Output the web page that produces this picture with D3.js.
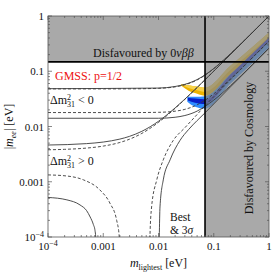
<!DOCTYPE html>
<html>
<head>
<meta charset="utf-8">
<script src="https://cdn.jsdelivr.net/npm/d3@7"></script>
<style>
body { margin: 0; background: #fff; }
svg text { font-family: "Liberation Serif", "Times New Roman", serif; fill: #111; }
</style>
</head>
<body>
<div id="chart"></div>
<script>
// ---- data: [m_lightest, |m_ee|] in eV ----
// normal hierarchy (dm31 > 0)
var nhBestUpper = [[1e-4,0.00379],[2e-4,0.00386],[5e-4,0.00407],[1e-3,0.00442],[2e-3,0.00514],[3e-3,0.0059],[5e-3,0.00751],[0.01,0.01188],[0.02,0.02129],[0.03,0.031],[0.05,0.0507],[0.07,0.0705],[0.1,0.1004],[0.2,0.2002],[1,1.0]];
var nh3sUpper = [[1e-4,0.00462],[5e-4,0.0049],[1e-3,0.00523],[2e-3,0.00592],[3e-3,0.00664],[5e-3,0.00819],[0.01,0.01243],[0.02,0.0217],[0.03,0.0313],[0.05,0.0509],[0.07,0.0707],[0.1,0.1005],[0.2,0.2003],[1,1.0001]];
var nhBestLowerL = [[1e-4,1.33e-3],[2.2e-4,1.27e-3],[4.4e-4,1.08e-3],[8.7e-4,7.1e-4],[1.32e-3,4.1e-4],[1.75e-3,2.0e-4],[1.95e-3,1.0e-4],[2.05e-3,4e-5]];
var nhBestLowerR = [[6.9e-3,4e-5],[7.0e-3,1.0e-4],[7.5e-3,3.5e-4],[9.3e-3,1.08e-3],[0.0122,2.49e-3],[0.0185,5.6e-3],[0.03,9.5e-3],[0.05,0.0165],[0.07,0.024],[0.1,0.0346],[0.2,0.0698],[0.5,0.175],[1,0.35]];
var nh3sLowerL = [[1e-4,5.2e-4],[2.2e-4,4.7e-4],[3.8e-4,3.8e-4],[5e-4,3.0e-4],[5.8e-4,2.3e-4],[6.6e-4,1.7e-4],[7.1e-4,1.3e-4],[7.3e-4,1.0e-4],[7.5e-4,5e-5]];
var nh3sLowerR = [[1.02e-2,5e-5],[1.033e-2,1.0e-4],[1.064e-2,3.5e-4],[1.22e-2,1.08e-3],[1.62e-2,2.49e-3],[2.45e-2,5.6e-3],[0.035,8.8e-3],[0.05,0.0128],[0.07,0.0178],[0.1,0.0256],[0.2,0.052],[0.5,0.130],[1,0.261]];
// inverted hierarchy (dm31 < 0)
var ihBestUpper = [[1e-4,0.04789],[1e-3,0.04792],[3e-3,0.04805],[0.01,0.0491],[0.02,0.05218],[0.03,0.05683],[0.05,0.06955],[0.07,0.08509],[0.1,0.1111],[0.2,0.2058],[0.5,0.5023],[1,1.0012]];
var ih3sUpper = [[1e-4,0.0484],[0.01,0.0496],[0.02,0.0530],[0.03,0.0580],[0.05,0.0707],[0.07,0.0863],[0.1,0.1121],[0.2,0.2065],[0.5,0.5026],[1,1.0013]];
var ihBestLower = [[1e-4,0.01789],[3e-3,0.01787],[0.01,0.01806],[0.02,0.01894],[0.03,0.02043],[0.05,0.02471],[0.07,0.03006],[0.1,0.03908],[0.2,0.07212],[0.5,0.1759],[1,0.3504]];
var ih3sLower = [[1e-4,0.0141],[0.01,0.0141],[0.02,0.0147],[0.03,0.0158],[0.05,0.0190],[0.07,0.0232],[0.1,0.0300],[0.2,0.0545],[0.5,0.1315],[1,0.2615]];
// GMSS p=1/2 bands: [m, low, high]
var yellowBand = [[0.0255,0.055,0.058],[0.035,0.0445,0.056],[0.05,0.0393,0.0527],[0.0695,0.0361,0.0504],[0.2,0.0882,0.1253],[0.5,0.191,0.275],[1,0.344,0.502]];
var blueBand = [[0.0332,0.0281,0.0346],[0.0458,0.0228,0.0346],[0.0695,0.0210,0.0354],[0.2,0.0591,0.0975],[0.5,0.139,0.2297],[1,0.268,0.443]];
var blueCore = [[0.034,0.0295,0.033],[0.0458,0.027,0.032],[0.0695,0.0255,0.031],[0.2,0.0722,0.0875],[0.5,0.175,0.2096],[1,0.344,0.407]];
// bounds
var meeBound = 0.148;   // 0vbb
var mBound = 0.0695;    // cosmology
// ticks
var majorTicks = [1e-4, 1e-3, 1e-2, 1e-1, 1];
var tickLabels = [["10","\u22124"], ["0.001",""], ["0.01",""], ["0.1",""], ["1",""]];

// set the dimensions and margins of the graph
var margin = {top: 16, right: 4, bottom: 37, left: 48},
    width = 273 - margin.left - margin.right,
    height = 274 - margin.top - margin.bottom;

var svg = d3.select("#chart").append("svg")
    .attr("width", 273).attr("height", 274);
var g = svg.append("g")
    .attr("transform", "translate(" + margin.left + "," + margin.top + ")");

var x = d3.scaleLog().domain([1e-4, 1]).range([0, width]);
var y = d3.scaleLog().domain([1e-4, 1]).range([height, 0]);

g.append("clipPath").attr("id", "plotclip")
  .append("rect").attr("width", width).attr("height", height);
var plot = g.append("g").attr("clip-path", "url(#plotclip)");

// bands
var area = d3.area()
    .x(function(d) { return x(d[0]); })
    .y0(function(d) { return y(d[1]); })
    .y1(function(d) { return y(d[2]); })
    .curve(d3.curveMonotoneX);
plot.append("path").datum(blueBand).attr("d", area).attr("fill", "#2f8cff");
plot.append("path").datum(yellowBand).attr("d", area).attr("fill", "#efb400");
plot.append("path")
    .datum(yellowBand.map(function(d) { return [d[0], Math.sqrt(d[1] * d[2]), d[2]]; }))
    .attr("d", area).attr("fill", "#f7d24a");
plot.append("path").datum(blueCore).attr("d", area).attr("fill", "#0a1ec8");

// disfavoured regions (semi transparent grey over the bands)
plot.append("rect")
    .attr("x", 0).attr("y", 0)
    .attr("width", width).attr("height", y(meeBound))
    .attr("fill", "#848484").attr("opacity", 0.7);
plot.append("rect")
    .attr("x", x(mBound)).attr("y", y(meeBound))
    .attr("width", width - x(mBound)).attr("height", height - y(meeBound))
    .attr("fill", "#848484").attr("opacity", 0.7);

// curves: solid = 3 sigma, dashed = best fit
var line = d3.line()
    .x(function(d) { return x(d[0]); })
    .y(function(d) { return y(d[1]); })
    .curve(d3.curveMonotoneX);
[nh3sUpper, nh3sLowerL, nh3sLowerR, ih3sUpper, ih3sLower].forEach(function(c) {
    plot.append("path").datum(c).attr("d", line)
        .attr("fill", "none").attr("stroke", "#3a3a3a").attr("stroke-width", 0.9);
});
[nhBestUpper, nhBestLowerL, nhBestLowerR, ihBestUpper, ihBestLower].forEach(function(c) {
    plot.append("path").datum(c).attr("d", line)
        .attr("fill", "none").attr("stroke", "#3a3a3a").attr("stroke-width", 0.9)
        .attr("stroke-dasharray", "3,2");
});

// bound lines
g.append("line")
    .attr("x1", 0).attr("x2", width).attr("y1", y(meeBound)).attr("y2", y(meeBound))
    .attr("stroke", "#000").attr("stroke-width", 1.6);
g.append("line")
    .attr("x1", x(mBound)).attr("x2", x(mBound)).attr("y1", 0).attr("y2", height)
    .attr("stroke", "#000").attr("stroke-width", 1.6);

// frame
g.append("rect").attr("width", width).attr("height", height)
    .attr("fill", "none").attr("stroke", "#555").attr("stroke-width", 0.8);

// inward ticks on all sides
var allTicks = x.ticks();
allTicks.forEach(function(t) {
    var major = majorTicks.some(function(m) { return Math.abs(m - t) / t < 1e-6; });
    var len = major ? 4 : 2;
    var px = x(t), py = y(t);
    g.append("line").attr("x1", px).attr("x2", px).attr("y1", height).attr("y2", height - len)
        .attr("stroke", "#555").attr("stroke-width", 0.7);
    g.append("line").attr("x1", px).attr("x2", px).attr("y1", 0).attr("y2", len)
        .attr("stroke", "#555").attr("stroke-width", 0.7);
    g.append("line").attr("x1", 0).attr("x2", len).attr("y1", py).attr("y2", py)
        .attr("stroke", "#555").attr("stroke-width", 0.7);
    g.append("line").attr("x1", width).attr("x2", width - len).attr("y1", py).attr("y2", py)
        .attr("stroke", "#555").attr("stroke-width", 0.7);
});

// tick labels
majorTicks.forEach(function(t, i) {
    var lab = tickLabels[i];
    var tx = g.append("text")
        .attr("x", x(t)).attr("y", height + 13)
        .attr("text-anchor", "middle").attr("font-size", "11px");
    tx.append("tspan").text(lab[0]);
    if (lab[1]) tx.append("tspan").attr("dy", -4).attr("font-size", "8px").text(lab[1]);
    var ty = g.append("text")
        .attr("x", -4).attr("y", y(t) + 4)
        .attr("text-anchor", "end").attr("font-size", "11px");
    ty.append("tspan").text(lab[0]);
    if (lab[1]) ty.append("tspan").attr("dy", -4).attr("font-size", "8px").text(lab[1]);
});

// axis titles
var xl = g.append("text")
    .attr("x", width / 2).attr("y", height + 30)
    .attr("text-anchor", "middle").attr("font-size", "12px");
xl.append("tspan").attr("font-style", "italic").text("m");
xl.append("tspan").attr("dy", 2.5).attr("font-size", "8px").text("lightest");
xl.append("tspan").attr("dy", -2.5).text(" [eV]");

var yl = g.append("text")
    .attr("transform", "translate(" + (-35) + "," + (height / 2) + ") rotate(-90)")
    .attr("text-anchor", "middle").attr("font-size", "12px");
yl.append("tspan").text("|");
yl.append("tspan").attr("font-style", "italic").text("m");
yl.append("tspan").attr("dy", 2.5).attr("font-size", "8px").attr("font-style", "italic").text("ee");
yl.append("tspan").attr("dy", -2.5).text("| [eV]");

// annotations
var t1 = g.append("text").attr("x", 45).attr("y", 41).attr("font-size", "12px");
t1.append("tspan").text("Disfavoured by 0");
t1.append("tspan").attr("font-style", "italic").text("\u03bd\u03b2\u03b2");

g.append("text").attr("x", 7).attr("y", 64).attr("font-size", "12px")
    .style("fill", "#ee1111").text("GMSS: p=1/2");

function dmLabel(ty, sign) {
    var t = g.append("text").attr("x", 2).attr("y", ty).attr("font-size", "12px");
    t.append("tspan").text("\u0394m");
    t.append("tspan").attr("dy", -4.5).attr("font-size", "8px").text("2");
    t.append("tspan").attr("dx", -4).attr("dy", 7.5).attr("font-size", "8px").text("31");
    t.append("tspan").attr("dy", -3).text(" " + sign + " 0");
}
dmLabel(88, "<");
dmLabel(149, ">");

g.append("text").attr("x", 122).attr("y", 204.5).attr("font-size", "11.5px").text("Best");
var t3 = g.append("text").attr("x", 122).attr("y", 217.5).attr("font-size", "11.5px");
t3.append("tspan").text("& 3");
t3.append("tspan").attr("font-style", "italic").text("\u03c3");

g.append("text")
    .attr("transform", "translate(" + 205 + "," + 132 + ") rotate(-90)")
    .attr("text-anchor", "middle").attr("font-size", "12px")
    .text("Disfavoured by Cosmology");
</script>
</body>
</html>
